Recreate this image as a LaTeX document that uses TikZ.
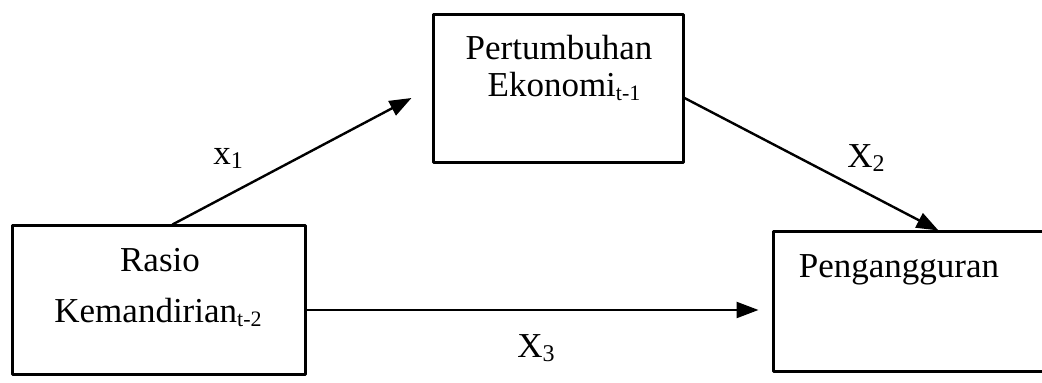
\documentclass[tikz,border=0pt]{standalone}
\usepackage{fontspec}
\setmainfont{Liberation Serif}
\usepackage{tikz}
\usetikzlibrary{arrows.meta,calc,positioning}
\newcommand{\lowidx}[2][11]{\raisebox{-1.8pt}{\fontsize{#1}{#1}\selectfont #2}}
\tikzset{
  var box/.style={draw,line width=1.5pt,inner sep=0pt},
  var text/.style={font=\fontsize{17.5}{21}\selectfont,inner sep=0pt,anchor=base},
  path label/.style={font=\fontsize{17.5}{21}\selectfont,inner sep=0pt,anchor=base west},
  link/.style={line width=1.2pt,-{Triangle[length=11pt,width=8pt]}}
}

\begin{document}
\begin{tikzpicture}[x=0.5pt,y=-0.5pt,line cap=round,line join=round]
  \clip (0,0) rectangle (1042,383);

  \node[var box,minimum width=146.5pt,minimum height=74.5pt] (kemandirian) at (158.5,300.5) {};
  \node[var box,minimum width=125pt,minimum height=74pt] (ekonomi) at (558,89) {};
  \node[var box,minimum width=143.5pt,minimum height=70pt] (pengangguran) at (916.5,302) {};

  \node[var text] (rasio) at (160,272) {Rasio};
  \node[var text] (kemandirian-t) at (158,323) {Kemandirian\lowidx{t-2}};
  \node[var text] (pertumbuhan) at (559,60) {Pertumbuhan};
  \node[var text] (ekonomi-t) at (564,97) {Ekonomi\lowidx{t-1}};
  \node[var text] (pengangguran-t) at (899,278) {Pengangguran};

  \draw[link] ($(kemandirian.north)+(14,0)$) -- ($(ekonomi.west)+(-20,9)$);
  \draw[link] ($(ekonomi.east)+(0,9)$) -- ($(pengangguran.north west)+(167,0)$);
  \draw[link] ($(kemandirian.east)+(0,9.5)$) -- ($(pengangguran.west)+(-13,8)$);

  \node[path label] (x1) at (213,165) {x\lowidx[12]{1}};
  \node[path label] (x2) at (847,168) {X\lowidx[12]{2}};
  \node[path label] (x3) at (517,358) {X\lowidx[12]{3}};
\end{tikzpicture}
\end{document}
